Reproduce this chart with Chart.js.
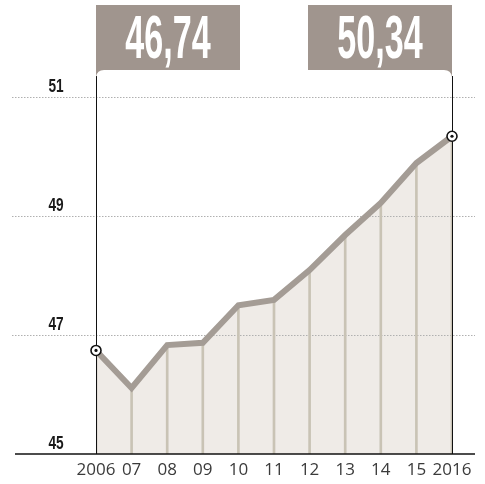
<!DOCTYPE html>
<html>
<head>
<meta charset="utf-8">
<script src="https://cdn.jsdelivr.net/npm/chart.js@4/dist/chart.umd.min.js"></script>
<style>
  html, body { margin: 0; padding: 0; background: #fff; }
  #wrap { width: 485px; height: 484px; position: relative; }
</style>
</head>
<body>
<div id="wrap"><canvas id="mainChart"></canvas></div>
<script>
const years = ["2006", "07", "08", "09", "10", "11", "12", "13", "14", "15", "2016"];
const values = [46.74, 46.11, 46.83, 46.87, 47.50, 47.59, 48.09, 48.68, 49.22, 49.89, 50.34];
const calloutLabels = ["46,74", "50,34"];
const yMin = 45, yMax = 51, yStep = 2;

const LINE = "#a49c95";
const FILL = "#efebe7";
const STEM = "#c9c3b5";
const BOX = "#a0958e";

// condensed text helper
function narrowText(c, txt, x, y, font, sx, color) {
  c.save();
  c.font = font;
  c.fillStyle = color;
  c.textAlign = "center";
  c.textBaseline = "middle";
  c.translate(x, y);
  c.scale(sx, 1);
  c.fillText(txt, 0, 0);
  c.restore();
}

/* background decorations: dotted grid, axis line, edge lines, callouts */
const decor = {
  id: "decor",
  beforeDatasetsDraw(chart) {
    const c = chart.ctx;
    const y = chart.scales.y;
    c.save();
    c.strokeStyle = "#b0b0b0";
    c.lineWidth = 1;
    c.setLineDash([1.5, 1.5]);
    y.ticks.forEach(t => {
      if (t.value === yMin) return;
      const py = Math.round(y.getPixelForValue(t.value)) + 0.5;
      c.beginPath();
      c.moveTo(12, py);
      c.lineTo(475, py);
      c.stroke();
    });
    c.restore();
  },
  afterDatasetsDraw(chart) {
    const c = chart.ctx;
    const x = chart.scales.x, y = chart.scales.y;
    const base = y.getPixelForValue(yMin);
    const x0 = x.getPixelForValue(0);
    const x1 = x.getPixelForValue(years.length - 1);

    // base line
    c.save();
    c.strokeStyle = "#111";
    c.lineWidth = 1.5;
    c.beginPath();
    c.moveTo(15, base);
    c.lineTo(475, base);
    c.stroke();

    // edge lines from callouts
    c.lineWidth = 1;
    [x0, x1].forEach(px => {
      c.beginPath();
      c.moveTo(Math.round(px) + 0.5, 76);
      c.lineTo(Math.round(px) + 0.5, base);
      c.stroke();
    });

    // callout boxes
    const w = 144, top = 5, bot = 70;
    const boxes = [
      { left: x0, right: x0 + w, tipX: x0 },
      { left: x1 - w, right: x1, tipX: x1 }
    ];
    c.fillStyle = BOX;
    boxes.forEach((b, i) => {
      c.beginPath();
      c.moveTo(b.left, top);
      c.lineTo(b.right, top);
      if (b.tipX === b.right) {
        c.lineTo(b.right, bot + 7);
        c.quadraticCurveTo(b.right - 1, bot, b.right - 8, bot);
        c.lineTo(b.left, bot);
      } else {
        c.lineTo(b.right, bot);
        c.lineTo(b.left + 8, bot);
        c.quadraticCurveTo(b.left + 1, bot, b.left, bot + 7);
      }
      c.closePath();
      c.fill();
      narrowText(c, calloutLabels[i], (b.left + b.right) / 2, 41,
        "bold 62px 'Liberation Sans', sans-serif", 0.55, "#fff");
    });

    // y tick labels, sitting above their grid lines
    y.ticks.forEach(t => {
      const py = y.getPixelForValue(t.value);
      narrowText(c, String(t.value), 56, py - 10.5,
        "bold 19px 'Liberation Sans', sans-serif", 0.72, "#1a1a1a");
    });

    // end markers
    const meta = chart.getDatasetMeta(0);
    [0, years.length - 1].forEach(i => {
      const p = meta.data[i];
      c.beginPath();
      c.fillStyle = "#fff";
      c.strokeStyle = "#111";
      c.lineWidth = 1.6;
      c.arc(p.x, p.y, 5, 0, Math.PI * 2);
      c.fill();
      c.stroke();
      c.beginPath();
      c.fillStyle = "#111";
      c.arc(p.x, p.y, 1.6, 0, Math.PI * 2);
      c.fill();
    });
    c.restore();
  }
};

new Chart(document.getElementById("mainChart"), {
  data: {
    labels: years,
    datasets: [
      {
        type: "line",
        data: values,
        borderColor: LINE,
        borderWidth: 6,
        backgroundColor: FILL,
        fill: "start",
        tension: 0,
        pointRadius: 0,
        order: 1
      },
      {
        type: "bar",
        data: values,
        backgroundColor: STEM,
        barThickness: 2,
        order: 2
      }
    ]
  },
  options: {
    responsive: true,
    maintainAspectRatio: false,
    animation: false,
    layout: { padding: { left: 96, right: 33, top: 97, bottom: 6 } },
    plugins: {
      legend: { display: false },
      tooltip: { enabled: false },
      filler: { drawTime: "beforeDatasetsDraw" }
    },
    scales: {
      x: {
        offset: false,
        grid: { display: false, drawTicks: false },
        border: { display: false },
        afterFit(scale) { scale.height = 24; },
        ticks: {
          color: "#3a3a3a",
          font: { family: "'Open Sans', sans-serif", size: 17 },
          padding: 6,
          maxRotation: 0,
          autoSkip: false
        }
      },
      y: {
        display: false,
        min: yMin,
        max: yMax,
        ticks: { stepSize: yStep }
      }
    }
  },
  plugins: [decor]
});
</script>
</body>
</html>
